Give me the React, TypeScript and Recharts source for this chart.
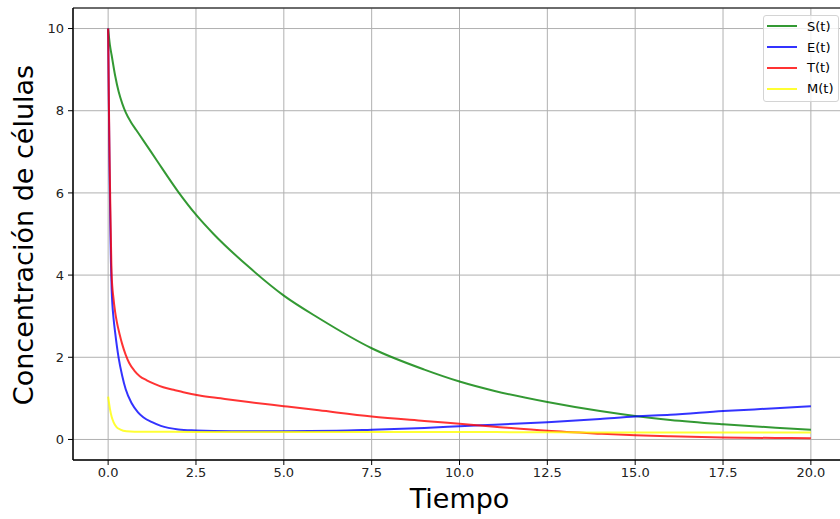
import React from "react";
import {
  LineChart,
  Line,
  XAxis,
  YAxis,
  CartesianGrid,
  ReferenceArea,
  Label,
} from "recharts";

// Tick labels
const xTicks = [0, 2.5, 5, 7.5, 10, 12.5, 15, 17.5, 20];
const yTicks = [0, 2, 4, 6, 8, 10];

// S(t)
const sTime = [0, 0.05, 0.1, 0.2, 0.3, 0.4, 0.5, 0.65, 0.8, 1, 1.4, 2, 2.5, 3, 4, 5, 6, 7.5, 9, 10, 11, 12.5, 14, 15, 16, 17.5, 19, 20];
const sValues = [10, 9.6, 9.35, 8.85, 8.46, 8.18, 7.96, 7.72, 7.53, 7.28, 6.77, 6.02, 5.47, 5.0, 4.2, 3.5, 2.95, 2.22, 1.7, 1.41, 1.18, 0.91, 0.69, 0.57, 0.475, 0.37, 0.285, 0.235];

// E(t)
const eTime = [0, 0.02, 0.04, 0.06, 0.08, 0.1, 0.12, 0.15, 0.2, 0.3, 0.4, 0.5, 0.67, 0.85, 1, 1.25, 1.5, 2, 2.5, 3.5, 5, 6.5, 7.5, 9, 10, 11, 12.5, 14, 15, 16, 17.5, 19, 20];
const eValues = [10, 8.2, 6.6, 5.3, 4.3, 3.65, 3.3, 2.98, 2.6, 1.98, 1.55, 1.22, 0.88, 0.66, 0.54, 0.42, 0.33, 0.245, 0.22, 0.2, 0.2, 0.21, 0.235, 0.28, 0.32, 0.36, 0.42, 0.5, 0.56, 0.6, 0.69, 0.76, 0.81];

// T(t)
const tTime = [0, 0.02, 0.04, 0.06, 0.08, 0.1, 0.15, 0.2, 0.25, 0.33, 0.4, 0.5, 0.6, 0.75, 0.9, 1.1, 1.3, 1.57, 1.86, 2.14, 2.6, 3.2, 4, 5, 6, 7.5, 9, 10, 11, 12.5, 14, 15, 16, 17.5, 19, 20];
const tValues = [10, 8.3, 6.9, 5.8, 4.8, 4.0, 3.45, 3.1, 2.85, 2.55, 2.32, 2.06, 1.86, 1.67, 1.54, 1.44, 1.36, 1.27, 1.21, 1.15, 1.07, 1.0, 0.91, 0.81, 0.71, 0.56, 0.45, 0.38, 0.31, 0.21, 0.14, 0.1, 0.075, 0.05, 0.035, 0.03];

// M(t)
const mTime = [0, 0.05, 0.1, 0.15, 0.24, 0.35, 0.52, 0.75, 1, 2.5, 5, 10, 15, 20];
const mValues = [1.04, 0.75, 0.55, 0.43, 0.3, 0.24, 0.2, 0.19, 0.19, 0.18, 0.18, 0.18, 0.17, 0.17];

const toRows = (time: number[], values: number[]) =>
  time.map((t, i) => ({ t, v: values[i] }));

const series = [
  { name: "S(t)", color: "#008000", data: toRows(sTime, sValues) },
  { name: "E(t)", color: "#0000ff", data: toRows(eTime, eValues) },
  { name: "T(t)", color: "#ff0000", data: toRows(tTime, tValues) },
  { name: "M(t)", color: "#ffff00", data: toRows(mTime, mValues) },
];

const FONT = "'DejaVu Sans', sans-serif";

const LegendBox = () => (
  <div
    style={{
      position: "absolute",
      left: 763,
      top: 15,
      width: 76,
      height: 87,
      border: "1px solid #d4d4d4",
      borderRadius: 3,
      background: "rgba(255,255,255,0.8)",
      fontFamily: FONT,
      fontSize: 13,
      color: "#000",
      boxSizing: "border-box",
    }}
  >
    {series.map((s) => (
      <div key={s.name} style={{ display: "flex", alignItems: "center", height: 20.8 }}>
        <div
          style={{
            marginLeft: 3,
            width: 30,
            height: 2,
            background: s.color,
            opacity: 0.8,
          }}
        />
        <span style={{ marginLeft: 10 }}>{s.name}</span>
      </div>
    ))}
  </div>
);

const YLabel = () => (
  <text
    x={-235}
    y={33}
    transform="rotate(-90)"
    textAnchor="middle"
    fontFamily={FONT}
    fontSize={27}
    fill="#000"
  >
    Concentración de células
  </text>
);

const App: React.FC = () => {
  return (
    <div
      style={{
        position: "absolute",
        left: 0,
        top: 0,
        width: 840,
        height: 519,
        overflow: "hidden",
        background: "#fff",
      }}
    >
      <LineChart
        width={860}
        height={519}
        margin={{ top: 8, right: 14, bottom: 0, left: 0 }}
      >
        <CartesianGrid stroke="#b0b0b0" strokeWidth={1} />
        <XAxis
          dataKey="t"
          type="number"
          domain={[-1, 21]}
          ticks={xTicks}
          allowDataOverflow
          tickFormatter={(v: number) => v.toFixed(1)}
          height={59}
          tickSize={5}
          tickMargin={3}
          stroke="#000"
          tick={{ fill: "#222", fontSize: 13, fontFamily: FONT }}
        >
          <Label
            value="Tiempo"
            position="insideBottom"
            offset={11}
            style={{ fontSize: 27, fontFamily: FONT, fill: "#000" }}
          />
        </XAxis>
        <YAxis
          type="number"
          domain={[-0.5, 10.5]}
          ticks={yTicks}
          allowDataOverflow
          width={73}
          tickSize={5}
          tickMargin={4}
          stroke="#000"
          tick={{ fill: "#222", fontSize: 13, fontFamily: FONT }}
        >
          <Label content={<YLabel />} />
        </YAxis>
        {series.map((s) => (
          <Line
            key={s.name}
            data={s.data}
            dataKey="v"
            name={s.name}
            type="monotone"
            stroke={s.color}
            strokeOpacity={0.8}
            strokeWidth={2}
            dot={false}
            activeDot={false}
            isAnimationActive={false}
          />
        ))}
        <ReferenceArea
          x1={-1}
          x2={21}
          y1={-0.5}
          y2={10.5}
          fill="none"
          stroke="#000"
          strokeWidth={1}
          ifOverflow="visible"
        />
      </LineChart>
      <LegendBox />
    </div>
  );
};

export default App;
